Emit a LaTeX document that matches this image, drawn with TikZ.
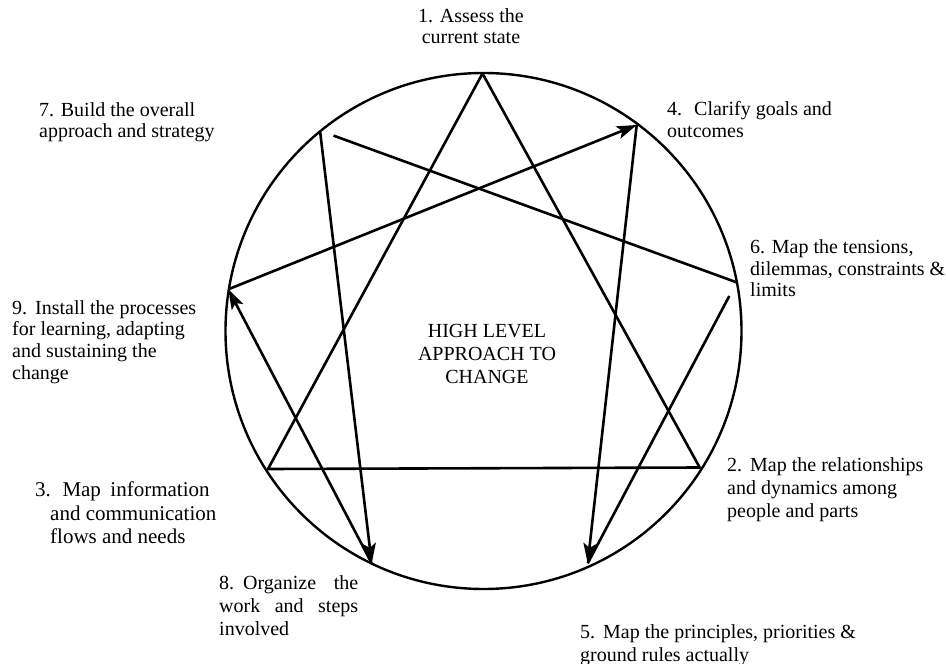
\documentclass[tikz,border=0pt]{standalone}
\usepackage{fontspec}
\setmainfont{Liberation Serif}
\usetikzlibrary{arrows.meta}
\begin{document}
\begin{tikzpicture}[x=1pt,y=-1pt,
  edge/.style={line width=2.6pt, line join=round},
  arr/.style={edge, -{Stealth[length=20pt,width=13pt,inset=4.5pt]}},
  lbl/.style={inner sep=0pt, anchor=north west, align=left,
              font=\fontsize{20}{21.7}\selectfont},
  lbltall/.style={lbl, font=\fontsize{20}{23}\selectfont}]
\useasboundingbox (0,0) rectangle (946,664);
\fill[white] (0,0) rectangle (946,664);

% centre and the nine points on the ring
\coordinate (c)  at (483.5,331);
\coordinate (v1) at (482.5,73.5);
\coordinate (v4) at (636.7,125);
\coordinate (v6) at (736.5,282.3);
\coordinate (v2) at (699.7,467.5);
\coordinate (v5) at (587.7,563.3);
\coordinate (v8) at (371.7,563.3);
\coordinate (v3) at (268,469);
\coordinate (v9) at (228.3,289.3);
\coordinate (v7) at (320,130.7);
% free ends of the two open strokes
\coordinate (s7) at (333.5,135.6);
\coordinate (s6) at (729.3,296);

\draw[line width=2.4pt] (c) circle (258);

% inner triangle
\draw[edge] (v1) -- (v2) -- (v3) -- cycle;

% open strokes
\draw[edge] (s7) -- (v6);
\draw[edge] (s6) -- (v5);

% directed strokes
\draw[arr] (v7) -- (v8);
\draw[arr] (v8) -- (v9);
\draw[arr] (v9) -- (v4);
\draw[arr] (v4) -- (v5);

% step labels
\node[lbl, anchor=north, align=center] (t1) at (471,8) {1. Assess the\\current state};
\node[lbl] (t7) at (39,102) {7. Build the overall\\approach and strategy};
\node[lbl] (t4) at (667,101.5) {4.\hspace{0.6em}Clarify goals and\\outcomes};
\node[lbl] (t6) at (750,239.5) {6. Map the tensions,\\dilemmas, constraints \&\\limits};
\node[lbl] (t9) at (12,300) {9.\hspace{0.4em}Install the processes\\for learning, adapting\\and sustaining the\\change};
\node[lbltall, font=\fontsize{21}{23.5}\selectfont] (t3) at (50,482)
  {\hspace*{-15pt}3.\hspace{0.55em}Map\hspace{0.45em}information\\and communication\\flows and needs};
\node[lbltall] (t2) at (727,457) {2.\hspace{0.4em}Map the relationships\\and dynamics among\\people and parts};
\node[lbltall, text width=139pt, align=justify] (t8) at (219,575)
  {\noindent 8.\hspace{0.45em}Organize the\linebreak work and steps\linebreak involved};
\node[lbltall] (t5) at (580,624) {5.\hspace{0.4em}Map the principles, priorities \&\\ground rules actually};

% centre caption
\node[inner sep=0pt, align=center, font=\fontsize{20}{23}\selectfont] (hub) at (487,353.5)
  {HIGH LEVEL\\APPROACH TO\\CHANGE};
\end{tikzpicture}
\end{document}
